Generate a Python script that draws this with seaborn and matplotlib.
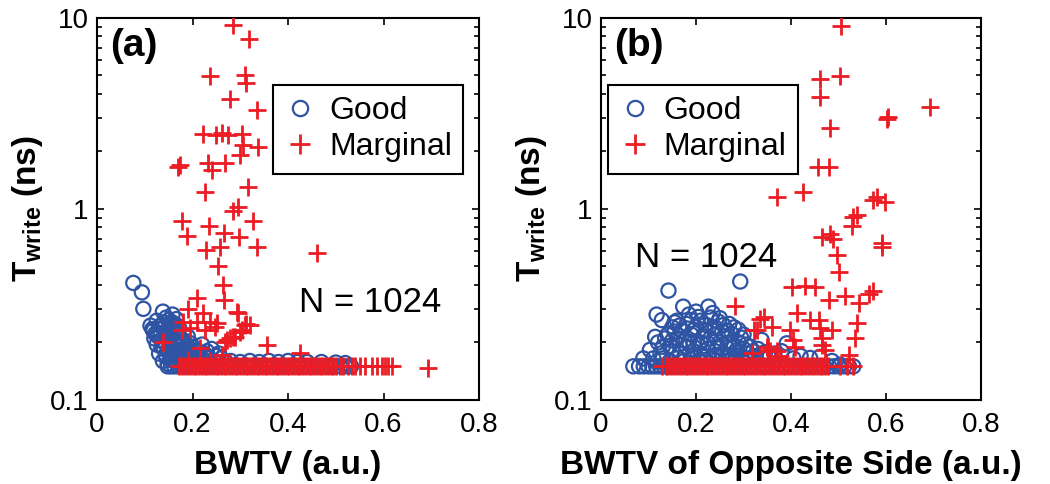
import matplotlib
matplotlib.use("Agg")
import matplotlib.pyplot as plt
import seaborn as sns
import pandas as pd
from matplotlib.ticker import FixedLocator, NullFormatter, FuncFormatter, LogLocator
from matplotlib.lines import Line2D

# ---------------- data ----------------
categories = ["Good", "Marginal"]
t_floor = 0.15  # write-time floor (ns)

# (a) T_write vs BWTV
a_good_x = [0.076, 0.094, 0.097, 0.138, 0.125, 0.112, 0.118, 0.130, 0.145, 0.152, 0.160,
            0.142, 0.120, 0.125, 0.135, 0.150, 0.165, 0.175, 0.180, 0.170, 0.155, 0.140,
            0.130, 0.145, 0.160, 0.185, 0.195, 0.200, 0.210, 0.190, 0.175, 0.155, 0.138,
            0.148, 0.165, 0.180, 0.200, 0.215, 0.225, 0.235, 0.245, 0.260, 0.270, 0.255,
            0.240, 0.220, 0.128, 0.140, 0.150, 0.168, 0.190, 0.205, 0.230, 0.250, 0.280,
            0.300, 0.320, 0.340, 0.360, 0.380, 0.400, 0.420, 0.440, 0.470, 0.500, 0.520,
            0.116, 0.122, 0.128, 0.133, 0.140, 0.147, 0.153, 0.158, 0.163, 0.170, 0.176,
            0.182, 0.188, 0.196, 0.135, 0.142, 0.150, 0.157, 0.164, 0.172, 0.180, 0.187,
            0.145, 0.152, 0.160, 0.168, 0.176, 0.185, 0.193, 0.203, 0.212, 0.222, 0.232,
            0.150, 0.157, 0.165, 0.172, 0.158, 0.166]
a_good_y = [0.410, 0.366, 0.300, 0.290, 0.260, 0.245, 0.230, 0.235, 0.270, 0.250, 0.240,
            0.220, 0.210, 0.195, 0.205, 0.215, 0.225, 0.210, 0.200, 0.190, 0.195, 0.185,
            0.175, 0.170, 0.180, 0.185, 0.175, 0.190, 0.170, 0.165, 0.170, 0.162, 0.160,
            0.155, 0.158, 0.160, 0.160, 0.162, 0.175, 0.165, 0.160, 0.165, 0.158, 0.175,
            0.185, 0.195, 0.225, 0.255, 0.230, 0.205, 0.215, 0.180, 0.180, 0.170, 0.160,
            0.158, 0.160, 0.158, 0.160, 0.158, 0.160, 0.158, 0.158, 0.158, 0.157, 0.156,
            0.235, 0.222, 0.215, 0.245, 0.238, 0.228, 0.212, 0.232, 0.205, 0.215, 0.198,
            0.205, 0.192, 0.198, 0.190, 0.198, 0.202, 0.188, 0.192, 0.182, 0.178, 0.172,
            0.168, 0.175, 0.170, 0.166, 0.170, 0.168, 0.172, 0.165, 0.168, 0.163, 0.168,
            0.262, 0.255, 0.248, 0.238, 0.280, 0.265]
a_good_floor_x = [0.148, 0.155, 0.162, 0.170, 0.178, 0.186, 0.194, 0.202, 0.210, 0.218,
                  0.226, 0.234, 0.242, 0.250, 0.260, 0.270, 0.280, 0.290, 0.300, 0.310,
                  0.320, 0.330, 0.340, 0.350, 0.360, 0.370, 0.380, 0.390, 0.400, 0.410,
                  0.420, 0.430, 0.440, 0.450, 0.460, 0.470, 0.480, 0.490, 0.500, 0.510,
                  0.520, 0.532]

a_marg_x = [0.284, 0.319, 0.237, 0.310, 0.313, 0.279, 0.336, 0.223, 0.249, 0.262, 0.274,
            0.304, 0.306, 0.338, 0.300, 0.170, 0.174, 0.233, 0.240, 0.268, 0.226, 0.317,
            0.296, 0.285, 0.179, 0.327, 0.188, 0.235, 0.266, 0.298, 0.334, 0.228, 0.258,
            0.460, 0.254, 0.263, 0.265, 0.209, 0.191, 0.223, 0.293, 0.181, 0.209, 0.237,
            0.251, 0.195, 0.177, 0.226, 0.247, 0.310, 0.139, 0.272, 0.289, 0.299, 0.191,
            0.216, 0.237, 0.261, 0.216, 0.295, 0.320, 0.355, 0.279, 0.425, 0.313, 0.303,
            0.285, 0.268, 0.694]
a_marg_y = [9.20, 7.80, 4.97, 5.00, 4.55, 3.75, 3.30, 2.47, 2.44, 2.50, 2.44,
            2.47, 2.16, 2.12, 1.92, 1.66, 1.70, 1.73, 1.60, 1.75, 1.23, 1.31,
            1.03, 0.97, 0.86, 0.87, 0.72, 0.81, 0.75, 0.71, 0.63, 0.61, 0.635,
            0.586, 0.50, 0.40, 0.334, 0.34, 0.30, 0.284, 0.29, 0.257, 0.257, 0.257,
            0.253, 0.237, 0.233, 0.233, 0.242, 0.247, 0.200, 0.206, 0.214, 0.228, 0.162,
            0.158, 0.160, 0.172, 0.186, 0.284, 0.247, 0.194, 0.210, 0.177, 0.250, 0.233,
            0.214, 0.200, 0.147]
a_marg_floor_x = [0.172, 0.178, 0.185, 0.190, 0.196, 0.203, 0.208, 0.214, 0.220, 0.226,
                  0.231, 0.237, 0.243, 0.249, 0.254, 0.260, 0.266, 0.271, 0.277, 0.283,
                  0.289, 0.294, 0.300, 0.306, 0.311, 0.317, 0.323, 0.329, 0.334, 0.340,
                  0.346, 0.351, 0.357, 0.363, 0.369, 0.374, 0.380, 0.386, 0.391, 0.397,
                  0.403, 0.409, 0.414, 0.420, 0.426, 0.431, 0.437, 0.443, 0.449, 0.454,
                  0.460, 0.466, 0.471, 0.477, 0.483, 0.489, 0.494, 0.500, 0.508, 0.516,
                  0.525, 0.533, 0.541, 0.550, 0.561, 0.575, 0.586, 0.596, 0.603, 0.610,
                  0.617]

# (b) T_write vs BWTV of the opposite side
b_good_x = [0.068, 0.089, 0.103, 0.114, 0.117, 0.128, 0.142, 0.173, 0.226, 0.205, 0.247,
            0.258, 0.289, 0.293, 0.338, 0.314, 0.391, 0.405, 0.440, 0.486, 0.503, 0.531,
            0.120, 0.130, 0.140, 0.150, 0.160, 0.170, 0.180, 0.190, 0.200, 0.210, 0.220,
            0.230, 0.240, 0.250, 0.260, 0.270, 0.280, 0.290, 0.300, 0.310, 0.150, 0.165,
            0.180, 0.195, 0.210, 0.225, 0.240, 0.255, 0.270, 0.285, 0.130, 0.145, 0.160,
            0.175, 0.190, 0.205, 0.220, 0.235, 0.250, 0.265, 0.280, 0.295, 0.310, 0.325,
            0.340, 0.355, 0.160, 0.185, 0.210, 0.230, 0.165, 0.240, 0.270, 0.195, 0.125,
            0.110, 0.200, 0.265, 0.320, 0.150, 0.235,
            0.135, 0.155, 0.175, 0.195, 0.215, 0.235, 0.255, 0.275, 0.295, 0.145, 0.165,
            0.185, 0.205, 0.225, 0.245, 0.265, 0.285, 0.305, 0.175, 0.195, 0.215, 0.245,
            0.255, 0.275, 0.155, 0.190, 0.220, 0.250, 0.280, 0.300, 0.330, 0.345, 0.365,
            0.380, 0.420, 0.460]
b_good_y = [0.150, 0.165, 0.183, 0.214, 0.280, 0.262, 0.374, 0.308, 0.308, 0.272, 0.257,
            0.247, 0.233, 0.417, 0.206, 0.190, 0.198, 0.165, 0.166, 0.160, 0.153, 0.150,
            0.200, 0.190, 0.220, 0.240, 0.210, 0.230, 0.250, 0.220, 0.240, 0.200, 0.230,
            0.210, 0.220, 0.200, 0.215, 0.200, 0.190, 0.200, 0.185, 0.175, 0.180, 0.175,
            0.190, 0.180, 0.175, 0.185, 0.180, 0.175, 0.172, 0.170, 0.165, 0.160, 0.165,
            0.160, 0.163, 0.160, 0.162, 0.165, 0.160, 0.160, 0.158, 0.162, 0.160, 0.170,
            0.165, 0.170, 0.260, 0.280, 0.260, 0.270, 0.245, 0.240, 0.250, 0.200, 0.175,
            0.165, 0.290, 0.230, 0.180, 0.205, 0.285,
            0.210, 0.228, 0.205, 0.232, 0.215, 0.238, 0.228, 0.222, 0.212, 0.192, 0.195,
            0.202, 0.195, 0.198, 0.190, 0.188, 0.182, 0.195, 0.168, 0.170, 0.168, 0.172,
            0.168, 0.165, 0.255, 0.262, 0.248, 0.268, 0.240, 0.220, 0.185, 0.178, 0.175,
            0.180, 0.170, 0.168]
b_good_floor_x = [0.080, 0.090, 0.100, 0.108, 0.116, 0.124, 0.132, 0.140, 0.148, 0.156,
                  0.164, 0.172, 0.180, 0.188, 0.196, 0.204, 0.212, 0.220, 0.228, 0.236,
                  0.244, 0.252, 0.260, 0.270, 0.280, 0.290, 0.300, 0.310, 0.320, 0.330,
                  0.340, 0.350, 0.360, 0.370, 0.380, 0.390, 0.400, 0.410, 0.420, 0.430,
                  0.440, 0.450, 0.460, 0.470, 0.480, 0.490, 0.500, 0.512, 0.522]

b_marg_x = [0.505, 0.502, 0.460, 0.460, 0.693, 0.604, 0.601, 0.482, 0.457, 0.479, 0.370,
            0.426, 0.573, 0.598, 0.538, 0.528, 0.465, 0.482, 0.489, 0.591, 0.531, 0.591,
            0.580, 0.496, 0.500, 0.401, 0.429, 0.450, 0.479, 0.514, 0.542, 0.563, 0.573,
            0.342, 0.412, 0.440, 0.458, 0.359, 0.328, 0.398, 0.461, 0.486, 0.538, 0.535,
            0.465, 0.405, 0.352, 0.408, 0.472, 0.370, 0.465, 0.521, 0.282, 0.321, 0.317,
            0.377, 0.349, 0.335, 0.356]
b_marg_y = [9.08, 4.97, 4.79, 3.87, 3.43, 3.02, 2.96, 2.64, 1.66, 1.66, 1.15,
            1.23, 1.11, 1.09, 0.93, 0.815, 0.716, 0.74, 0.70, 0.66, 0.91, 0.635,
            1.16, 0.574, 0.47, 0.39, 0.395, 0.39, 0.334, 0.35, 0.323, 0.36, 0.37,
            0.272, 0.284, 0.262, 0.262, 0.242, 0.233, 0.233, 0.237, 0.233, 0.253, 0.21,
            0.21, 0.206, 0.183, 0.19, 0.183, 0.18, 0.194, 0.172, 0.31, 0.233, 0.176,
            0.17, 0.19, 0.265, 0.18]
b_marg_floor_x = [0.128, 0.136, 0.142, 0.148, 0.154, 0.160, 0.166, 0.172, 0.178, 0.184,
                  0.190, 0.196, 0.202, 0.208, 0.214, 0.220, 0.226, 0.232, 0.238, 0.244,
                  0.250, 0.256, 0.262, 0.268, 0.274, 0.280, 0.286, 0.292, 0.298, 0.304,
                  0.310, 0.316, 0.322, 0.328, 0.334, 0.340, 0.346, 0.352, 0.358, 0.364,
                  0.370, 0.376, 0.382, 0.388, 0.394, 0.400, 0.406, 0.412, 0.418, 0.424,
                  0.430, 0.436, 0.442, 0.448, 0.454, 0.460, 0.466, 0.472, 0.478, 0.503,
                  0.517, 0.531]

x_ticks = [0, 0.2, 0.4, 0.6, 0.8]
y_ticks = [0.1, 1, 10]
y_tick_labels = ["0.1", "1", "10"]
panel_tags = ["(a)", "(b)"]
x_labels = ["BWTV (a.u.)", "BWTV of Opposite Side (a.u.)"]
count_text = "N = 1024"

# ---------------- style ----------------
sns.set_theme(style="ticks")
plt.rcParams["font.family"] = ["Liberation Sans", "DejaVu Sans"]
plt.rcParams["mathtext.fontset"] = "custom"
plt.rcParams["mathtext.rm"] = "Liberation Sans"
plt.rcParams["mathtext.bf"] = "Liberation Sans:bold"
plt.rcParams["axes.linewidth"] = 1.5
plt.rcParams["text.color"] = "black"
plt.rcParams["axes.labelcolor"] = "black"
plt.rcParams["xtick.color"] = "black"
plt.rcParams["ytick.color"] = "black"

GOOD_C = "#2E54A3"
MARG_C = "#ED1C24"


def frame(good_x, good_y, good_floor_x, marg_x, marg_y, marg_floor_x):
    good = pd.DataFrame({"x": good_x + good_floor_x,
                         "y": good_y + [t_floor] * len(good_floor_x)})
    marg = pd.DataFrame({"x": marg_x + marg_floor_x,
                         "y": marg_y + [t_floor] * len(marg_floor_x)})
    return good, marg


panels = [
    frame(a_good_x, a_good_y, a_good_floor_x, a_marg_x, a_marg_y, a_marg_floor_x),
    frame(b_good_x, b_good_y, b_good_floor_x, b_marg_x, b_marg_y, b_marg_floor_x),
]

fig = plt.figure(figsize=(10.5, 4.84), dpi=100)
ax_a = fig.add_axes([0.0924, 0.1736, 0.3638, 0.7893])
ax_b = fig.add_axes([0.5724, 0.1736, 0.3620, 0.7893])

legend_anchor = [(0.461, 0.825), (0.018, 0.825)]
count_pos = [(0.715, 0.254), (0.276, 0.372)]

for i, (ax, (good, marg)) in enumerate(zip([ax_a, ax_b], panels)):
    sns.scatterplot(data=good, x="x", y="y", ax=ax, marker="o", s=105,
                    facecolor="none", edgecolor=GOOD_C, linewidth=1.6, zorder=2)
    sns.scatterplot(data=marg, x="x", y="y", ax=ax, marker="+", s=165,
                    color=MARG_C, linewidth=2.0, zorder=3)

    ax.set_yscale("log")
    ax.set_xlim(0, 0.8)
    ax.set_ylim(0.1, 10)
    ax.xaxis.set_major_locator(FixedLocator(x_ticks))
    ax.xaxis.set_major_formatter(FuncFormatter(lambda v, p: f"{v:g}"))
    ax.yaxis.set_major_locator(FixedLocator(y_ticks))
    ax.yaxis.set_major_formatter(FuncFormatter(
        lambda v, p: y_tick_labels[y_ticks.index(min(y_ticks, key=lambda t: abs(t - v)))]))
    ax.yaxis.set_minor_locator(LogLocator(base=10, subs=range(2, 10)))
    ax.yaxis.set_minor_formatter(NullFormatter())
    ax.tick_params(which="both", direction="in", top=True, right=True,
                   labelsize=20, width=1.2, color="black", labelcolor="black")
    ax.tick_params(which="major", length=5)
    ax.tick_params(axis="x", which="major", pad=9)
    ax.tick_params(axis="y", which="major", pad=6)
    ax.tick_params(which="minor", length=3.5)
    for sp in ax.spines.values():
        sp.set_color("black")
        sp.set_linewidth(1.5)

    ax.set_xlabel(x_labels[i], fontsize=24, fontweight="bold", labelpad=8)
    ax.set_ylabel(r"$\mathbf{T_{write}}$ (ns)", fontsize=24, fontweight="bold", labelpad=4)

    ax.text(0.034, 0.975, panel_tags[i], transform=ax.transAxes, fontsize=28,
            fontweight="bold", va="top", ha="left")
    ax.text(count_pos[i][0], count_pos[i][1], count_text, transform=ax.transAxes,
            fontsize=25, va="center", ha="center")

    handles = [
        Line2D([], [], ls="none", marker="o", markersize=11, markerfacecolor="none",
               markeredgecolor=GOOD_C, markeredgewidth=1.6),
        Line2D([], [], ls="none", marker="+", markersize=14, color=MARG_C,
               markeredgewidth=2.0),
    ]
    leg = ax.legend(handles, categories, loc="upper left",
                    bbox_to_anchor=legend_anchor[i], borderaxespad=0, fontsize=23,
                    frameon=True, fancybox=False, framealpha=1, edgecolor="black",
                    handlelength=1.0, handletextpad=0.4, borderpad=0.35,
                    labelspacing=0.2)
    leg.get_frame().set_linewidth(1.5)

fig.savefig("out.png", dpi=100)
